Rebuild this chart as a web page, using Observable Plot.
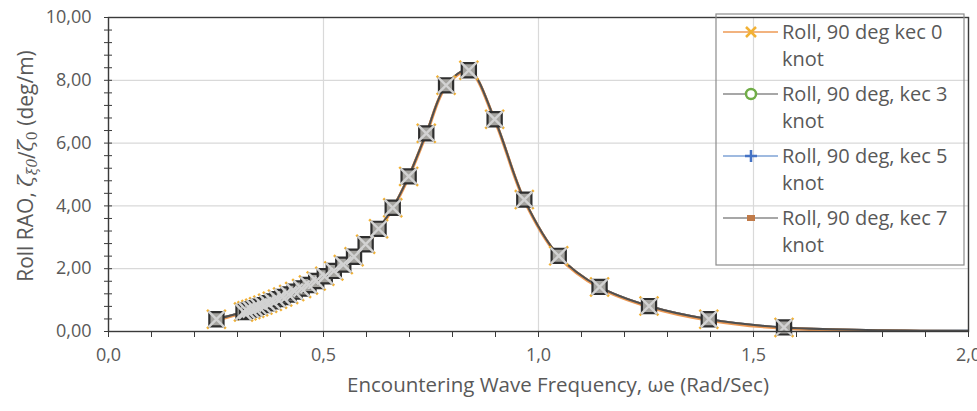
<!DOCTYPE html>
<html>
<head>
<meta charset="utf-8">
<script src="https://cdn.jsdelivr.net/npm/d3@7"></script>
<script src="https://cdn.jsdelivr.net/npm/@observablehq/plot@0.6"></script>
<style>
  body { margin: 0; background: #ffffff; }
  #chart { position: relative; width: 977px; height: 411px; }
</style>
</head>
<body>
<div id="chart"></div>
<script>
// Encountering wave frequency (rad/s) for each computed wave period
const omega = [0.251, 0.314, 0.322, 0.331, 0.340, 0.349, 0.359, 0.370, 0.381, 0.393,
               0.405, 0.419, 0.433, 0.449, 0.465, 0.483, 0.503, 0.524, 0.546, 0.571,
               0.598, 0.628, 0.661, 0.698, 0.739, 0.785, 0.838, 0.898, 0.967, 1.047,
               1.142, 1.257, 1.396, 1.571, 2.094];

// Roll RAO (deg/m) at 90 deg heading, by ship speed
const rao0 = [0.39, 0.62, 0.66, 0.70, 0.74, 0.79, 0.84, 0.90, 0.96, 1.03,
              1.10, 1.18, 1.27, 1.37, 1.48, 1.61, 1.76, 1.93, 2.13, 2.38,
              2.78, 3.27, 3.94, 4.94, 6.31, 7.84, 8.32, 6.76, 4.20, 2.41,
              1.42, 0.81, 0.39, 0.13, 0.02];
const rao3 = [0.39, 0.62, 0.66, 0.70, 0.74, 0.79, 0.84, 0.90, 0.96, 1.03,
              1.10, 1.18, 1.27, 1.37, 1.48, 1.61, 1.76, 1.93, 2.13, 2.38,
              2.78, 3.27, 3.94, 4.94, 6.31, 7.84, 8.32, 6.76, 4.20, 2.41,
              1.42, 0.81, 0.39, 0.13, 0.02];
const rao5 = [0.39, 0.62, 0.66, 0.70, 0.74, 0.79, 0.84, 0.90, 0.96, 1.03,
              1.10, 1.18, 1.27, 1.37, 1.48, 1.61, 1.76, 1.93, 2.13, 2.38,
              2.78, 3.27, 3.94, 4.94, 6.31, 7.84, 8.32, 6.76, 4.20, 2.41,
              1.42, 0.81, 0.39, 0.13, 0.02];
const rao7 = [0.39, 0.62, 0.66, 0.70, 0.74, 0.79, 0.84, 0.90, 0.96, 1.03,
              1.10, 1.18, 1.27, 1.37, 1.48, 1.61, 1.76, 1.93, 2.13, 2.38,
              2.78, 3.27, 3.94, 4.94, 6.31, 7.84, 8.32, 6.76, 4.20, 2.41,
              1.42, 0.81, 0.39, 0.13, 0.02];

const seriesNames = ["Roll, 90 deg kec 0 knot", "Roll, 90 deg, kec 3 knot",
                     "Roll, 90 deg, kec 5 knot", "Roll, 90 deg, kec 7 knot"];

const xTicks = [0, 0.5, 1.0, 1.5, 2.0];
const xMinorTicks = d3.range(0, 21).map(i => i / 10);
const yTicks = [0, 2, 4, 6, 8, 10];
const yMinorTicks = d3.range(0, 26).map(i => i * 0.4);

const fmtX = d => d3.format(".1f")(d).replace(".", ",");
const fmtY = d => d3.format(".2f")(d).replace(".", ",");

const table = [rao0, rao3, rao5, rao7].flatMap((vals, s) =>
  vals.map((v, i) => ({series: seriesNames[s], omega: omega[i], rao: v})));
const bySeries = name => table.filter(d => d.series === name);
const inRange = name => table.filter(d => d.series === name && d.omega <= 2);

const axisColor = "#3a3a3a";
const textColor = "#595959";

const W = 977, H = 411, ML = 108, MR = 9, MT = 17, MB = 80;

const plot = Plot.plot({
  width: W,
  height: H,
  marginLeft: ML,
  marginRight: MR,
  marginTop: MT,
  marginBottom: MB,
  style: {fontFamily: "'Open Sans', sans-serif", fontSize: "18px", color: textColor, background: "transparent"},
  x: {domain: [0, 2]},
  y: {domain: [0, 10]},
  marks: [
    Plot.gridY(yTicks, {stroke: "#d9d9d9", strokeOpacity: 1, strokeWidth: 1.2}),
    Plot.gridX(xTicks, {stroke: "#d9d9d9", strokeOpacity: 1, strokeWidth: 1.2}),
    // curves for each speed (they overlap almost exactly in beam seas)
    Plot.line(bySeries(seriesNames[2]), {x: "omega", y: "rao", stroke: "#6f94c8", strokeWidth: 2, curve: "catmull-rom", clip: true}),
    Plot.line(bySeries(seriesNames[1]), {x: "omega", y: "rao", stroke: "#8a8a8a", strokeWidth: 2, curve: "catmull-rom", clip: true}),
    Plot.line(bySeries(seriesNames[0]), {x: "omega", y: "rao", stroke: "#ee9a55", strokeWidth: 3.2, dy: 0.8, curve: "catmull-rom", clip: true}),
    Plot.line(bySeries(seriesNames[3]), {x: "omega", y: "rao", stroke: "#4f4f4f", strokeWidth: 2, curve: "catmull-rom", clip: true}),
    // markers
    Plot.dot(inRange(seriesNames[0]), {x: "omega", y: "rao", symbol: "times", r: 8.6, stroke: "#f2b134", strokeWidth: 2.4}),
    Plot.dot(inRange(seriesNames[1]), {x: "omega", y: "rao", symbol: "circle", r: 4.5, stroke: "#70ad47", strokeWidth: 2, fill: "none"}),
    Plot.dot(inRange(seriesNames[2]), {x: "omega", y: "rao", symbol: "plus", r: 4.5, stroke: "#4472c4", strokeWidth: 2}),
    Plot.dot(inRange(seriesNames[3]), {x: "omega", y: "rao", symbol: "square", r: 8, fill: "#a4a39f", stroke: "#2f2f2f", strokeWidth: 2.2}),
    Plot.dot(inRange(seriesNames[3]), {x: "omega", y: "rao", symbol: "times", r: 7.4, stroke: "#d2d2d2", strokeWidth: 2.4}),
    Plot.frame({stroke: axisColor, strokeWidth: 1.4}),
    // axes
    Plot.axisY(yTicks, {tickSize: 0, tickPadding: 17, tickFormat: fmtY, label: null, fill: textColor}),
    Plot.axisY(yMinorTicks, {tickSize: 4, text: null, label: null, stroke: axisColor}),
    Plot.tickY(yMinorTicks, {y: d => d, stroke: axisColor, insetRight: W - ML - MR - 4}),
    Plot.axisX(xTicks, {tickSize: 0, tickPadding: 17, tickFormat: fmtX, label: null, fill: textColor}),
    Plot.axisX(xMinorTicks, {tickSize: 6, text: null, label: null, stroke: axisColor})
  ]
});

document.getElementById("chart").appendChild(plot);

const svg = d3.select(plot);

// axis titles
svg.append("text")
  .attr("x", 558).attr("y", 392)
  .attr("text-anchor", "middle")
  .attr("fill", textColor)
  .style("font-family", "'Open Sans', sans-serif")
  .style("font-size", "20.5px")
  .text("Encountering Wave Frequency, ωe (Rad/Sec)");

const yTitle = svg.append("text")
  .attr("transform", "translate(33,166) rotate(-90)")
  .attr("text-anchor", "middle")
  .attr("fill", textColor)
  .style("font-family", "'Open Sans', sans-serif")
  .style("font-size", "21px");
yTitle.append("tspan").text("Roll RAO, ");
yTitle.append("tspan").style("font-family", "'DejaVu Serif', serif").style("font-style", "italic").text("ζ");
yTitle.append("tspan").style("font-family", "'DejaVu Serif', serif").style("font-style", "italic").style("font-size", "14px").attr("dy", 4).text("ξ0");
yTitle.append("tspan").style("font-family", "'DejaVu Serif', serif").attr("dy", -4).text("/");
yTitle.append("tspan").style("font-family", "'DejaVu Serif', serif").style("font-style", "italic").text("ζ");
yTitle.append("tspan").style("font-family", "'DejaVu Serif', serif").style("font-size", "14px").attr("dy", 4).text("0");
yTitle.append("tspan").attr("dy", -4).text(" (deg/m)");

// legend box
const legend = svg.append("g").attr("text-anchor", "start");
legend.append("rect")
  .attr("x", 716).attr("y", 14).attr("width", 248).attr("height", 251)
  .attr("fill", "none").attr("stroke", "#8c8c8c").attr("stroke-width", 1.2);

const legendItems = [
  {l1: "Roll, 90 deg kec 0", line: "#ee9a55", kind: "x", color: "#f2b134"},
  {l1: "Roll, 90 deg, kec 3", line: "#8a8a8a", kind: "circle", color: "#70ad47"},
  {l1: "Roll, 90 deg, kec 5", line: "#7fa3d6", kind: "plus", color: "#4472c4"},
  {l1: "Roll, 90 deg, kec 7", line: "#8a8a8a", kind: "square", color: "#c07a48"}
];

legendItems.forEach((it, i) => {
  const base = 39 + i * 62;
  const g = legend.append("g");
  const ly = base - 7;
  g.append("line").attr("x1", 723).attr("x2", 778).attr("y1", ly).attr("y2", ly)
    .attr("stroke", it.line).attr("stroke-width", 1.5);
  const mx = 751;
  if (it.kind === "x") {
    g.append("path").attr("d", `M${mx-5},${ly-5}L${mx+5},${ly+5}M${mx-5},${ly+5}L${mx+5},${ly-5}`)
      .attr("stroke", it.color).attr("stroke-width", 2.5);
  } else if (it.kind === "circle") {
    g.append("circle").attr("cx", mx).attr("cy", ly).attr("r", 5)
      .attr("fill", "#ffffff").attr("stroke", it.color).attr("stroke-width", 2.5);
  } else if (it.kind === "plus") {
    g.append("path").attr("d", `M${mx-6},${ly}L${mx+6},${ly}M${mx},${ly-6}L${mx},${ly+6}`)
      .attr("stroke", it.color).attr("stroke-width", 2.5);
  } else {
    g.append("rect").attr("x", mx - 4).attr("y", ly - 3).attr("width", 8).attr("height", 6)
      .attr("fill", it.color);
  }
  const t = g.append("text").attr("fill", textColor).attr("text-anchor", "start")
    .style("font-family", "'Open Sans', sans-serif").style("font-size", "20px");
  t.append("tspan").attr("x", 782).attr("y", base).text(it.l1);
  t.append("tspan").attr("x", 782).attr("y", base + 27).text("knot");
});
</script>
</body>
</html>
